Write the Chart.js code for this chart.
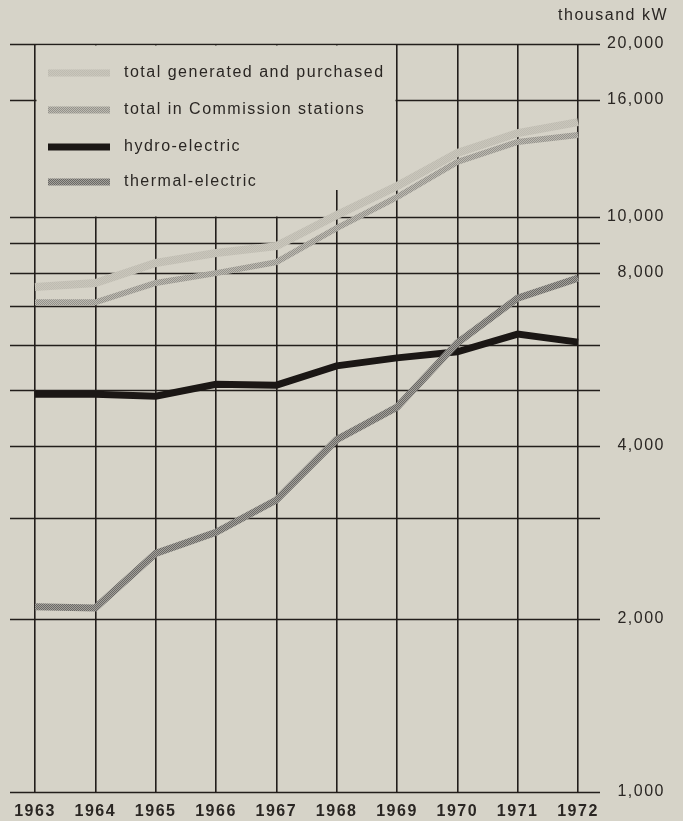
<!DOCTYPE html>
<html>
<head>
<meta charset="utf-8">
<script src="https://cdn.jsdelivr.net/npm/chart.js@4"></script>
<style>
  html, body { margin: 0; padding: 0; background: #d6d3c8; }
  #wrap { width: 683px; height: 821px; position: relative; }
</style>
</head>
<body>
<div id="wrap"><canvas id="powerChart"></canvas></div>
<script>
// Data (thousand kW)
const years = ['1963', '1964', '1965', '1966', '1967', '1968', '1969', '1970', '1971', '1972'];
const totalGenerated = [7560, 7680, 8320, 8660, 8900, 10080, 11320, 12930, 14000, 14630];
const totalCommission = [7110, 7110, 7680, 7990, 8350, 9570, 10830, 12470, 13510, 13890];
const hydroElectric = [4920, 4920, 4880, 5120, 5100, 5510, 5690, 5830, 6260, 6060];
const thermalElectric = [2100, 2090, 2600, 2830, 3220, 4100, 4670, 6040, 7230, 7830];

// Y grid lines and which of them carry a label
const yGridValues = [1000, 2000, 3000, 4000, 5000, 6000, 7000, 8000, 9000, 10000, 16000, 20000];
const yLabelValues = [1000, 2000, 4000, 8000, 10000, 16000, 20000];

const legendLabels = ['total generated and purchased', 'total in Commission stations', 'hydro-electric', 'thermal-electric'];

const BG = '#d6d3c8';
const INK = '#221e1b';
const TEXT = '#2a2623';

// small halftone-ish patterns for the grey lines
function makePattern(dark, light) {
  const c = document.createElement('canvas');
  c.width = 2; c.height = 2;
  const g = c.getContext('2d');
  g.fillStyle = light; g.fillRect(0, 0, 2, 2);
  g.fillStyle = dark; g.fillRect(0, 0, 1, 1); g.fillRect(1, 1, 1, 1);
  return g.createPattern(c, 'repeat');
}

const ctx = document.getElementById('powerChart').getContext('2d');
const totalStyle = makePattern('#bebbb1', '#cac7bc');
const commissionStyle = makePattern('#94928c', '#bdbab1');
const thermalStyle = makePattern('#6a6865', '#a3a19b');
const hydroStyle = '#1b1715';

const legendStyles = [
  { color: totalStyle, width: 7 },
  { color: commissionStyle, width: 7 },
  { color: hydroStyle, width: 7 },
  { color: thermalStyle, width: 7 }
];

function setSpacing(chart) {
  chart.ctx.letterSpacing = '1.5px';
}

const paperPlugin = {
  id: 'paper',
  beforeLayout: setSpacing,
  beforeDraw: setSpacing,
  beforeDatasetsDraw(chart) {
    const c = chart.ctx;
    const xs = chart.scales.x;
    const ys = chart.scales.y;
    const area = chart.chartArea;

    // horizontal rules, running a bit past the plot on both sides
    c.save();
    c.strokeStyle = INK;
    c.lineWidth = 1.6;
    yGridValues.forEach(v => {
      const y = Math.round(ys.getPixelForValue(v)) + 0.5;
      c.beginPath();
      c.moveTo(area.left - 25, y);
      c.lineTo(area.right + 22, y);
      c.stroke();
    });

    // legend panel clears the grid
    const x0 = xs.getPixelForValue(0) + 1.5;
    const x68 = xs.getPixelForValue(5);
    const x69 = xs.getPixelForValue(6) - 1.5;
    const yTop = Math.round(ys.getPixelForValue(20000)) + 1.5;
    const yMid = Math.round(ys.getPixelForValue(11200));
    const yBot = Math.round(ys.getPixelForValue(10000)) - 0.5;
    c.fillStyle = BG;
    c.fillRect(x0, yTop, x69 - x0, yMid - yTop + 1);
    c.fillRect(x0, yMid, x68 - 1.5 - x0, yBot - yMid);
    c.fillRect(x68 + 1.5, yMid, x69 - x68 - 1.5, yBot - yMid);
    c.restore();
  },
  afterDraw(chart) {
    const c = chart.ctx;
    c.save();
    c.letterSpacing = '1.5px';
    c.font = '16px "Liberation Sans", Arial, sans-serif';
    c.fillStyle = TEXT;
    c.textBaseline = 'middle';

    // unit label
    c.textAlign = 'right';
    c.fillText('thousand kW', 668, 16);

    // legend
    c.textAlign = 'left';
    const rows = [73, 110, 147, 182];
    legendLabels.forEach((label, i) => {
      c.beginPath();
      c.strokeStyle = legendStyles[i].color;
      c.lineWidth = legendStyles[i].width;
      c.moveTo(48, rows[i]);
      c.lineTo(110, rows[i]);
      c.stroke();
      c.fillText(label, 124, rows[i]);
    });
    c.restore();
  }
};

new Chart(ctx, {
  type: 'line',
  data: {
    labels: years,
    datasets: [
      {
        label: legendLabels[0],
        data: totalGenerated,
        borderColor: totalStyle,
        borderWidth: 8,
        order: 3
      },
      {
        label: legendLabels[1],
        data: totalCommission,
        borderColor: commissionStyle,
        borderWidth: 6,
        order: 2
      },
      {
        label: legendLabels[2],
        data: hydroElectric,
        borderColor: hydroStyle,
        borderWidth: 7,
        order: 1
      },
      {
        label: legendLabels[3],
        data: thermalElectric,
        borderColor: thermalStyle,
        borderWidth: 7,
        order: 0
      }
    ]
  },
  options: {
    responsive: true,
    maintainAspectRatio: false,
    animation: false,
    layout: { padding: { left: 35, top: 44, right: 18, bottom: 0 } },
    elements: {
      point: { radius: 0 },
      line: { tension: 0, borderCapStyle: 'butt', borderJoinStyle: 'miter' }
    },
    plugins: {
      legend: { display: false },
      tooltip: { enabled: false }
    },
    scales: {
      x: {
        offset: false,
        grid: { color: INK, lineWidth: 1.6, drawTicks: false },
        border: { display: false },
        ticks: {
          color: TEXT,
          padding: 10,
          maxRotation: 0,
          autoSkip: false,
          font: { family: '"Liberation Sans", Arial, sans-serif', size: 16, weight: 'bold' }
        },
        afterFit(scale) { scale.height = 29; }
      },
      y: {
        type: 'logarithmic',
        position: 'right',
        min: 1000,
        max: 20000,
        grid: { display: false, drawTicks: false },
        border: { display: false },
        afterBuildTicks(scale) {
          scale.ticks = yGridValues.map(v => ({ value: v }));
        },
        ticks: {
          color: TEXT,
          crossAlign: 'far',
          padding: 0,
          autoSkip: false,
          font: { family: '"Liberation Sans", Arial, sans-serif', size: 16 },
          callback(value) {
            return yLabelValues.includes(value) ? value.toLocaleString('en-US') : '';
          }
        },
        afterFit(scale) { scale.width = 87; }
      }
    }
  },
  plugins: [paperPlugin]
});
</script>
</body>
</html>
